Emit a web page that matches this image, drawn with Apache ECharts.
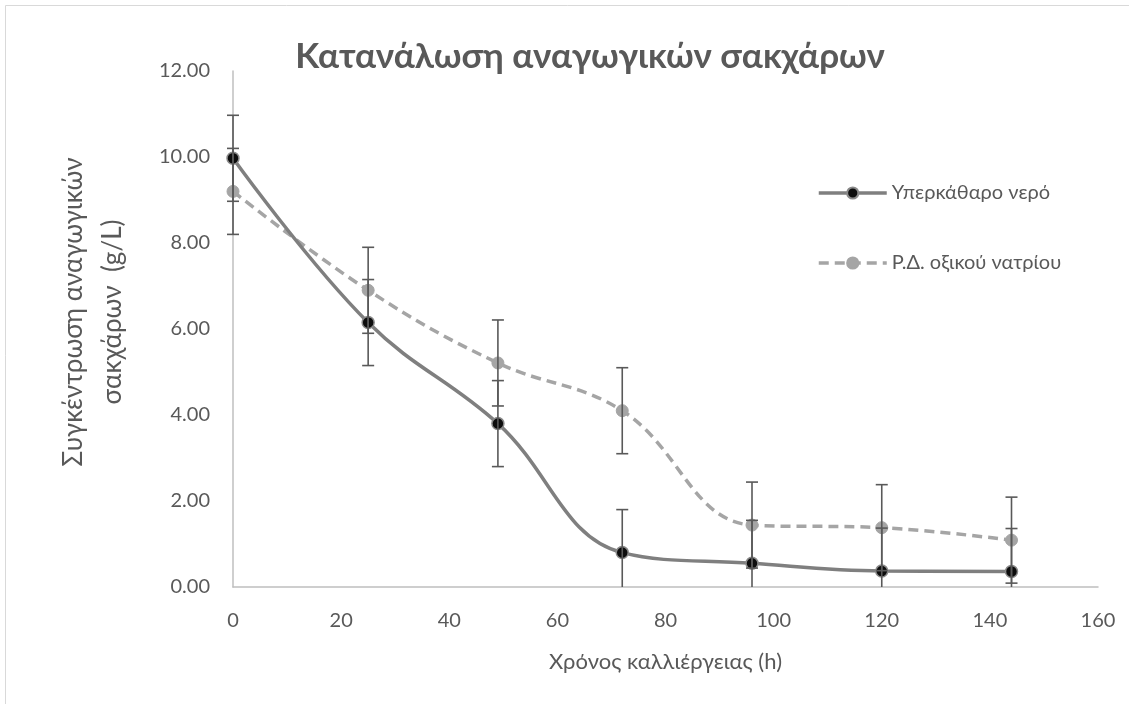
<!DOCTYPE html>
<html><head><meta charset="utf-8">
<script src="https://cdn.jsdelivr.net/npm/echarts@6/dist/echarts.min.js"></script>
<style>html,body{margin:0;padding:0;background:#fff}#c{width:1129px;height:704px}</style>
</head><body><div id="c"></div>
<script>
const hours = [0, 25, 49, 72, 96, 120, 144];
const water = [9.97, 6.15, 3.80, 0.80, 0.55, 0.37, 0.36];
const acetate = [9.20, 6.90, 5.21, 4.10, 1.44, 1.38, 1.09];
const waterErr = [1, 1, 1, 1, 1, 1, 1];
const acetateErr = [1, 1, 1, 1, 1, 1, 1];
const seriesNames = ['Υπερκάθαρο νερό', 'Ρ.Δ. οξικού νατρίου'];
const titleText = 'Κατανάλωση αναγωγικών σακχάρων';
const xTitle = 'Χρόνος καλλιέργειας (h)';
const yTitle = 'Συγκέντρωση αναγωγικών\nσακχάρων  (g/L)';

const FONT = 'Lato, "Open Sans", sans-serif';
const TXT = '#595959';

function errData(xs, ys, es) {
  return xs.map((x, i) => [x, ys[i] - es[i], ys[i] + es[i]]);
}
function errRender(params, api) {
  const x = api.value(0), lo = Math.max(api.value(1), 0), hi = api.value(2);
  const p1 = api.coord([x, hi]), p2 = api.coord([x, lo]);
  const w = 6;
  const st = { stroke: '#595959', lineWidth: 1.6 };
  const kids = [
    { type: 'line', shape: { x1: p1[0], y1: p1[1], x2: p2[0], y2: p2[1] }, style: st },
    { type: 'line', shape: { x1: p1[0] - w, y1: p1[1], x2: p1[0] + w, y2: p1[1] }, style: st }
  ];
  if (api.value(1) >= 0) kids.push({ type: 'line', shape: { x1: p2[0] - w, y1: p2[1], x2: p2[0] + w, y2: p2[1] }, style: st });
  return { type: 'group', children: kids };
}

const chart = echarts.init(document.getElementById('c'));
chart.setOption({
  backgroundColor: '#fff',
  animation: false,
  graphic: [
    { type: 'rect', shape: { x: 5.5, y: 5.5, width: 1140, height: 720 }, style: { fill: 'none', stroke: '#d9d9d9', lineWidth: 1 }, silent: true },
    { type: 'text', x: 93, y: 312, rotation: Math.PI / 2, silent: true,
      style: { text: yTitle, fontFamily: FONT, fontSize: 26, fill: TXT, align: 'center', verticalAlign: 'middle', lineHeight: 39 } }
  ],
  title: { text: titleText, left: 585, textAlign: 'center', top: 34,
    textStyle: { fontFamily: FONT, fontSize: 35, fontWeight: 'bold', color: TXT } },
  legend: {
    orient: 'vertical', left: 812, top: 178, itemGap: 50, itemWidth: 68, itemHeight: 14,
    textStyle: { fontFamily: FONT, fontSize: 20, color: TXT },
    data: [
      { name: seriesNames[0], lineStyle: { width: 3.5 } },
      { name: seriesNames[1], lineStyle: { width: 3.5 } }
    ]
  },
  grid: { left: 233, right: 31, top: 71, bottom: 117, containLabel: false },
  xAxis: {
    type: 'value', min: 0, max: 160, interval: 20,
    name: xTitle, nameLocation: 'middle', nameGap: 64,
    nameTextStyle: { fontFamily: FONT, fontSize: 22, color: TXT },
    axisLine: { lineStyle: { color: '#bfbfbf', width: 1.5 } },
    axisTick: { show: false }, splitLine: { show: false },
    axisLabel: { fontFamily: FONT, fontSize: 20, color: TXT, margin: 24 }
  },
  yAxis: {
    type: 'value', min: 0, max: 12, interval: 2,
    axisLine: { show: true, lineStyle: { color: '#bfbfbf', width: 1.5 } },
    axisTick: { show: false }, splitLine: { show: false },
    axisLabel: { fontFamily: FONT, fontSize: 20, color: TXT, margin: 23, formatter: v => v.toFixed(2) }
  },
  series: [
    { name: seriesNames[1], type: 'line', smooth: 0.4, data: hours.map((h, i) => [h, acetate[i]]),
      symbol: 'circle', symbolSize: 12, z: 3,
      lineStyle: { color: '#a5a5a5', width: 3.5, type: [10, 6] },
      itemStyle: { color: '#a5a5a5', borderColor: '#a5a5a5', borderWidth: 1 } },
    { name: seriesNames[0], type: 'line', smooth: 0.4, data: hours.map((h, i) => [h, water[i]]),
      symbol: 'circle', symbolSize: 12, z: 4,
      lineStyle: { color: '#7f7f7f', width: 3.5 },
      itemStyle: { color: '#0d0d0d', borderColor: '#8a8a8a', borderWidth: 1.5 } },
    { type: 'custom', renderItem: errRender, data: errData(hours, acetate, acetateErr), z: 5, silent: true,
      encode: { x: 0, y: [1, 2] } },
    { type: 'custom', renderItem: errRender, data: errData(hours, water, waterErr), z: 5, silent: true,
      encode: { x: 0, y: [1, 2] } }
  ]
});
</script></body></html>
